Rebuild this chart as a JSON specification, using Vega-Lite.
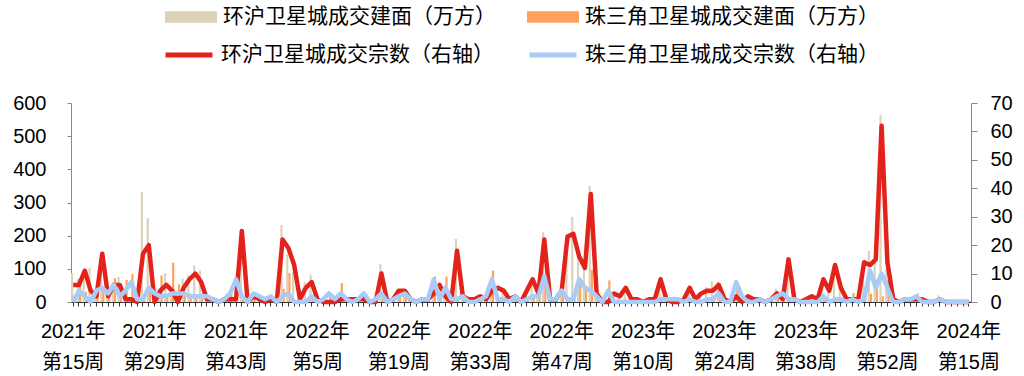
{
  "$schema": "https://vega.github.io/schema/vega-lite/v6.json",
  "width": 900,
  "height": 199,
  "autosize": {"type": "none"},
  "padding": {"left": 71, "top": 103, "right": 53, "bottom": 74},
  "background": "white",
  "config": {"view": {"stroke": null}, "font": "Liberation Sans, Noto Sans CJK SC"},
  "data": {"values": [
{"week":"2021-W15","hu_area":87,"prd_area":20,"hu_cnt":6,"prd_cnt":0},
{"week":"2021-W16","hu_area":70,"prd_area":65,"hu_cnt":6,"prd_cnt":4},
{"week":"2021-W17","hu_area":100,"prd_area":30,"hu_cnt":11,"prd_cnt":2},
{"week":"2021-W18","hu_area":102,"prd_area":10,"hu_cnt":4,"prd_cnt":0},
{"week":"2021-W19","hu_area":25,"prd_area":40,"hu_cnt":2,"prd_cnt":4},
{"week":"2021-W20","hu_area":140,"prd_area":45,"hu_cnt":17,"prd_cnt":5},
{"week":"2021-W21","hu_area":20,"prd_area":30,"hu_cnt":2,"prd_cnt":3},
{"week":"2021-W22","hu_area":60,"prd_area":72,"hu_cnt":6,"prd_cnt":6},
{"week":"2021-W23","hu_area":75,"prd_area":25,"hu_cnt":6,"prd_cnt":2},
{"week":"2021-W24","hu_area":10,"prd_area":67,"hu_cnt":1,"prd_cnt":4},
{"week":"2021-W25","hu_area":8,"prd_area":85,"hu_cnt":1,"prd_cnt":7},
{"week":"2021-W26","hu_area":5,"prd_area":15,"hu_cnt":0,"prd_cnt":1},
{"week":"2021-W27","hu_area":332,"prd_area":10,"hu_cnt":17,"prd_cnt":1},
{"week":"2021-W28","hu_area":253,"prd_area":45,"hu_cnt":20,"prd_cnt":5},
{"week":"2021-W29","hu_area":5,"prd_area":35,"hu_cnt":0,"prd_cnt":3},
{"week":"2021-W30","hu_area":40,"prd_area":80,"hu_cnt":4,"prd_cnt":2},
{"week":"2021-W31","hu_area":87,"prd_area":25,"hu_cnt":6,"prd_cnt":2},
{"week":"2021-W32","hu_area":45,"prd_area":118,"hu_cnt":4,"prd_cnt":3},
{"week":"2021-W33","hu_area":5,"prd_area":53,"hu_cnt":0,"prd_cnt":3},
{"week":"2021-W34","hu_area":70,"prd_area":30,"hu_cnt":5,"prd_cnt":3},
{"week":"2021-W35","hu_area":80,"prd_area":25,"hu_cnt":8,"prd_cnt":2},
{"week":"2021-W36","hu_area":110,"prd_area":20,"hu_cnt":10,"prd_cnt":2},
{"week":"2021-W37","hu_area":95,"prd_area":25,"hu_cnt":7,"prd_cnt":2},
{"week":"2021-W38","hu_area":10,"prd_area":20,"hu_cnt":1,"prd_cnt":2},
{"week":"2021-W39","hu_area":15,"prd_area":10,"hu_cnt":1,"prd_cnt":1},
{"week":"2021-W40","hu_area":3,"prd_area":2,"hu_cnt":0,"prd_cnt":0},
{"week":"2021-W41","hu_area":8,"prd_area":10,"hu_cnt":1,"prd_cnt":1},
{"week":"2021-W42","hu_area":10,"prd_area":30,"hu_cnt":1,"prd_cnt":3},
{"week":"2021-W43","hu_area":12,"prd_area":60,"hu_cnt":1,"prd_cnt":8},
{"week":"2021-W44","hu_area":200,"prd_area":20,"hu_cnt":25,"prd_cnt":2},
{"week":"2021-W45","hu_area":5,"prd_area":3,"hu_cnt":0,"prd_cnt":0},
{"week":"2021-W46","hu_area":20,"prd_area":30,"hu_cnt":2,"prd_cnt":3},
{"week":"2021-W47","hu_area":10,"prd_area":20,"hu_cnt":1,"prd_cnt":2},
{"week":"2021-W48","hu_area":3,"prd_area":10,"hu_cnt":0,"prd_cnt":1},
{"week":"2021-W49","hu_area":8,"prd_area":15,"hu_cnt":1,"prd_cnt":2},
{"week":"2021-W50","hu_area":2,"prd_area":2,"hu_cnt":0,"prd_cnt":0},
{"week":"2021-W51","hu_area":232,"prd_area":40,"hu_cnt":22,"prd_cnt":2},
{"week":"2021-W52","hu_area":145,"prd_area":87,"hu_cnt":19,"prd_cnt":3},
{"week":"2022-W01","hu_area":90,"prd_area":5,"hu_cnt":13,"prd_cnt":0},
{"week":"2022-W02","hu_area":8,"prd_area":2,"hu_cnt":1,"prd_cnt":0},
{"week":"2022-W03","hu_area":60,"prd_area":5,"hu_cnt":5,"prd_cnt":0},
{"week":"2022-W04","hu_area":83,"prd_area":20,"hu_cnt":7,"prd_cnt":2},
{"week":"2022-W05","hu_area":8,"prd_area":3,"hu_cnt":1,"prd_cnt":0},
{"week":"2022-W06","hu_area":3,"prd_area":10,"hu_cnt":0,"prd_cnt":1},
{"week":"2022-W07","hu_area":2,"prd_area":25,"hu_cnt":0,"prd_cnt":3},
{"week":"2022-W08","hu_area":2,"prd_area":8,"hu_cnt":0,"prd_cnt":1},
{"week":"2022-W09","hu_area":10,"prd_area":57,"hu_cnt":1,"prd_cnt":3},
{"week":"2022-W10","hu_area":10,"prd_area":10,"hu_cnt":1,"prd_cnt":1},
{"week":"2022-W11","hu_area":8,"prd_area":3,"hu_cnt":1,"prd_cnt":0},
{"week":"2022-W12","hu_area":10,"prd_area":10,"hu_cnt":1,"prd_cnt":1},
{"week":"2022-W13","hu_area":12,"prd_area":25,"hu_cnt":1,"prd_cnt":3},
{"week":"2022-W14","hu_area":2,"prd_area":2,"hu_cnt":0,"prd_cnt":0},
{"week":"2022-W15","hu_area":3,"prd_area":10,"hu_cnt":0,"prd_cnt":1},
{"week":"2022-W16","hu_area":114,"prd_area":25,"hu_cnt":10,"prd_cnt":3},
{"week":"2022-W17","hu_area":3,"prd_area":3,"hu_cnt":0,"prd_cnt":0},
{"week":"2022-W18","hu_area":10,"prd_area":10,"hu_cnt":1,"prd_cnt":1},
{"week":"2022-W19","hu_area":40,"prd_area":20,"hu_cnt":4,"prd_cnt":2},
{"week":"2022-W20","hu_area":35,"prd_area":25,"hu_cnt":4,"prd_cnt":3},
{"week":"2022-W21","hu_area":10,"prd_area":10,"hu_cnt":1,"prd_cnt":1},
{"week":"2022-W22","hu_area":3,"prd_area":3,"hu_cnt":0,"prd_cnt":0},
{"week":"2022-W23","hu_area":8,"prd_area":8,"hu_cnt":1,"prd_cnt":1},
{"week":"2022-W24","hu_area":10,"prd_area":10,"hu_cnt":1,"prd_cnt":1},
{"week":"2022-W25","hu_area":30,"prd_area":77,"hu_cnt":3,"prd_cnt":8},
{"week":"2022-W26","hu_area":50,"prd_area":10,"hu_cnt":6,"prd_cnt":1},
{"week":"2022-W27","hu_area":20,"prd_area":77,"hu_cnt":2,"prd_cnt":5},
{"week":"2022-W28","hu_area":3,"prd_area":8,"hu_cnt":0,"prd_cnt":1},
{"week":"2022-W29","hu_area":190,"prd_area":10,"hu_cnt":18,"prd_cnt":1},
{"week":"2022-W30","hu_area":20,"prd_area":20,"hu_cnt":2,"prd_cnt":2},
{"week":"2022-W31","hu_area":10,"prd_area":3,"hu_cnt":1,"prd_cnt":0},
{"week":"2022-W32","hu_area":8,"prd_area":3,"hu_cnt":1,"prd_cnt":0},
{"week":"2022-W33","hu_area":15,"prd_area":10,"hu_cnt":2,"prd_cnt":1},
{"week":"2022-W34","hu_area":10,"prd_area":20,"hu_cnt":1,"prd_cnt":2},
{"week":"2022-W35","hu_area":35,"prd_area":95,"hu_cnt":4,"prd_cnt":8},
{"week":"2022-W36","hu_area":45,"prd_area":10,"hu_cnt":5,"prd_cnt":1},
{"week":"2022-W37","hu_area":35,"prd_area":10,"hu_cnt":4,"prd_cnt":1},
{"week":"2022-W38","hu_area":10,"prd_area":3,"hu_cnt":1,"prd_cnt":0},
{"week":"2022-W39","hu_area":20,"prd_area":20,"hu_cnt":2,"prd_cnt":2},
{"week":"2022-W40","hu_area":3,"prd_area":3,"hu_cnt":0,"prd_cnt":0},
{"week":"2022-W41","hu_area":35,"prd_area":10,"hu_cnt":4,"prd_cnt":1},
{"week":"2022-W42","hu_area":70,"prd_area":20,"hu_cnt":8,"prd_cnt":2},
{"week":"2022-W43","hu_area":25,"prd_area":20,"hu_cnt":3,"prd_cnt":2},
{"week":"2022-W44","hu_area":210,"prd_area":70,"hu_cnt":22,"prd_cnt":9},
{"week":"2022-W45","hu_area":10,"prd_area":10,"hu_cnt":1,"prd_cnt":1},
{"week":"2022-W46","hu_area":10,"prd_area":10,"hu_cnt":1,"prd_cnt":1},
{"week":"2022-W47","hu_area":35,"prd_area":30,"hu_cnt":4,"prd_cnt":4},
{"week":"2022-W48","hu_area":180,"prd_area":10,"hu_cnt":23,"prd_cnt":1},
{"week":"2022-W49","hu_area":257,"prd_area":10,"hu_cnt":24,"prd_cnt":1},
{"week":"2022-W50","hu_area":150,"prd_area":60,"hu_cnt":16,"prd_cnt":8},
{"week":"2022-W51","hu_area":110,"prd_area":40,"hu_cnt":12,"prd_cnt":5},
{"week":"2022-W52","hu_area":350,"prd_area":97,"hu_cnt":38,"prd_cnt":4},
{"week":"2023-W02","hu_area":25,"prd_area":20,"hu_cnt":3,"prd_cnt":2},
{"week":"2023-W03","hu_area":3,"prd_area":3,"hu_cnt":0,"prd_cnt":0},
{"week":"2023-W04","hu_area":5,"prd_area":65,"hu_cnt":0,"prd_cnt":4},
{"week":"2023-W05","hu_area":25,"prd_area":3,"hu_cnt":3,"prd_cnt":0},
{"week":"2023-W06","hu_area":20,"prd_area":3,"hu_cnt":2,"prd_cnt":0},
{"week":"2023-W07","hu_area":40,"prd_area":3,"hu_cnt":5,"prd_cnt":0},
{"week":"2023-W08","hu_area":10,"prd_area":2,"hu_cnt":1,"prd_cnt":0},
{"week":"2023-W09","hu_area":10,"prd_area":2,"hu_cnt":1,"prd_cnt":0},
{"week":"2023-W10","hu_area":3,"prd_area":2,"hu_cnt":0,"prd_cnt":0},
{"week":"2023-W11","hu_area":8,"prd_area":2,"hu_cnt":1,"prd_cnt":0},
{"week":"2023-W12","hu_area":8,"prd_area":2,"hu_cnt":1,"prd_cnt":0},
{"week":"2023-W13","hu_area":70,"prd_area":10,"hu_cnt":8,"prd_cnt":1},
{"week":"2023-W14","hu_area":10,"prd_area":10,"hu_cnt":1,"prd_cnt":1},
{"week":"2023-W15","hu_area":5,"prd_area":10,"hu_cnt":0,"prd_cnt":1},
{"week":"2023-W16","hu_area":3,"prd_area":8,"hu_cnt":0,"prd_cnt":1},
{"week":"2023-W17","hu_area":8,"prd_area":3,"hu_cnt":1,"prd_cnt":0},
{"week":"2023-W18","hu_area":45,"prd_area":10,"hu_cnt":5,"prd_cnt":1},
{"week":"2023-W19","hu_area":8,"prd_area":3,"hu_cnt":1,"prd_cnt":0},
{"week":"2023-W20","hu_area":30,"prd_area":3,"hu_cnt":3,"prd_cnt":0},
{"week":"2023-W21","hu_area":45,"prd_area":10,"hu_cnt":4,"prd_cnt":1},
{"week":"2023-W22","hu_area":62,"prd_area":10,"hu_cnt":4,"prd_cnt":1},
{"week":"2023-W23","hu_area":62,"prd_area":25,"hu_cnt":6,"prd_cnt":3},
{"week":"2023-W24","hu_area":10,"prd_area":3,"hu_cnt":1,"prd_cnt":0},
{"week":"2023-W25","hu_area":3,"prd_area":2,"hu_cnt":0,"prd_cnt":0},
{"week":"2023-W26","hu_area":15,"prd_area":55,"hu_cnt":2,"prd_cnt":7},
{"week":"2023-W27","hu_area":3,"prd_area":20,"hu_cnt":0,"prd_cnt":2},
{"week":"2023-W28","hu_area":20,"prd_area":3,"hu_cnt":2,"prd_cnt":0},
{"week":"2023-W29","hu_area":10,"prd_area":3,"hu_cnt":1,"prd_cnt":0},
{"week":"2023-W30","hu_area":10,"prd_area":10,"hu_cnt":1,"prd_cnt":1},
{"week":"2023-W31","hu_area":3,"prd_area":2,"hu_cnt":0,"prd_cnt":0},
{"week":"2023-W32","hu_area":10,"prd_area":10,"hu_cnt":1,"prd_cnt":1},
{"week":"2023-W33","hu_area":40,"prd_area":20,"hu_cnt":3,"prd_cnt":2},
{"week":"2023-W34","hu_area":10,"prd_area":25,"hu_cnt":1,"prd_cnt":3},
{"week":"2023-W35","hu_area":135,"prd_area":10,"hu_cnt":15,"prd_cnt":1},
{"week":"2023-W36","hu_area":10,"prd_area":10,"hu_cnt":1,"prd_cnt":1},
{"week":"2023-W37","hu_area":3,"prd_area":2,"hu_cnt":0,"prd_cnt":0},
{"week":"2023-W38","hu_area":8,"prd_area":3,"hu_cnt":1,"prd_cnt":0},
{"week":"2023-W39","hu_area":20,"prd_area":3,"hu_cnt":2,"prd_cnt":0},
{"week":"2023-W40","hu_area":8,"prd_area":3,"hu_cnt":1,"prd_cnt":0},
{"week":"2023-W41","hu_area":70,"prd_area":15,"hu_cnt":8,"prd_cnt":2},
{"week":"2023-W42","hu_area":30,"prd_area":3,"hu_cnt":4,"prd_cnt":0},
{"week":"2023-W43","hu_area":100,"prd_area":10,"hu_cnt":13,"prd_cnt":1},
{"week":"2023-W44","hu_area":40,"prd_area":10,"hu_cnt":5,"prd_cnt":1},
{"week":"2023-W45","hu_area":10,"prd_area":3,"hu_cnt":1,"prd_cnt":0},
{"week":"2023-W46","hu_area":10,"prd_area":27,"hu_cnt":1,"prd_cnt":1},
{"week":"2023-W47","hu_area":8,"prd_area":3,"hu_cnt":1,"prd_cnt":0},
{"week":"2023-W48","hu_area":110,"prd_area":10,"hu_cnt":14,"prd_cnt":1},
{"week":"2023-W49","hu_area":154,"prd_area":25,"hu_cnt":13,"prd_cnt":11},
{"week":"2023-W50","hu_area":130,"prd_area":67,"hu_cnt":15,"prd_cnt":5},
{"week":"2023-W51","hu_area":563,"prd_area":17,"hu_cnt":62,"prd_cnt":10},
{"week":"2023-W52","hu_area":100,"prd_area":67,"hu_cnt":14,"prd_cnt":5},
{"week":"2024-W02","hu_area":10,"prd_area":3,"hu_cnt":1,"prd_cnt":0},
{"week":"2024-W03","hu_area":3,"prd_area":2,"hu_cnt":0,"prd_cnt":0},
{"week":"2024-W04","hu_area":10,"prd_area":10,"hu_cnt":1,"prd_cnt":1},
{"week":"2024-W05","hu_area":10,"prd_area":15,"hu_cnt":1,"prd_cnt":1},
{"week":"2024-W06","hu_area":12,"prd_area":25,"hu_cnt":1,"prd_cnt":2},
{"week":"2024-W07","hu_area":8,"prd_area":3,"hu_cnt":1,"prd_cnt":0},
{"week":"2024-W08","hu_area":3,"prd_area":2,"hu_cnt":0,"prd_cnt":0},
{"week":"2024-W09","hu_area":3,"prd_area":2,"hu_cnt":0,"prd_cnt":0},
{"week":"2024-W10","hu_area":20,"prd_area":8,"hu_cnt":1,"prd_cnt":1},
{"week":"2024-W11","hu_area":2,"prd_area":2,"hu_cnt":0,"prd_cnt":0},
{"week":"2024-W12","hu_area":2,"prd_area":2,"hu_cnt":0,"prd_cnt":0},
{"week":"2024-W13","hu_area":2,"prd_area":2,"hu_cnt":0,"prd_cnt":0},
{"week":"2024-W14","hu_area":2,"prd_area":2,"hu_cnt":0,"prd_cnt":0},
{"week":"2024-W15","hu_area":2,"prd_area":2,"hu_cnt":0,"prd_cnt":0}
  ]},
  "encoding": {
    "x": {
      "field": "week", "type": "nominal", "sort": "ascending",
      "scale": {"paddingInner": 0.25, "paddingOuter": 0},
      "axis": {
        "title": null, "labelAngle": 0, "labelOverlap": false,
        "tickSize": 4, "tickColor": "#333333", "domainColor": "#333333",
        "labelFontSize": 20, "labelLineHeight": 31, "labelPadding": 15, "labelColor": "#000000",
        "labelExpr": "indexof(['2021-W15','2021-W29','2021-W43','2022-W05','2022-W19','2022-W33','2022-W47','2023-W10','2023-W24','2023-W38','2023-W52','2024-W15'], datum.value) >= 0 ? [slice(datum.value,0,4) + '年', '第' + toNumber(slice(datum.value,6)) + '周'] : ''"
      }
    }
  },
  "layer": [
    {
      "transform": [{"fold": ["hu_area", "prd_area"], "as": ["series", "value"]}],
      "mark": {"type": "bar"},
      "encoding": {
        "xOffset": {"field": "series", "type": "nominal", "sort": ["hu_area", "prd_area"], "scale": {"paddingInner": 0, "paddingOuter": 0}},
        "y": {
          "field": "value", "type": "quantitative",
          "scale": {"domain": [0, 600], "nice": false},
          "axis": {"title": null, "grid": false, "values": [0,100,200,300,400,500,600], "tickSize": 4, "tickColor": "#888888", "domainColor": "#888888", "labelFontSize": 20, "labelPadding": 21, "labelColor": "#000000"}
        },
        "color": {
          "field": "series", "type": "nominal",
          "scale": {"domain": ["hu_area", "prd_area"], "range": ["#DCD2B9", "#FFA25E"]},
          "legend": {
            "title": null, "orient": "none", "legendX": 94, "legendY": -112, "direction": "horizontal",
            "symbolType": "M-1,-0.22H1V0.22H-1Z", "symbolSize": 2704, "symbolStrokeWidth": 0,
            "labelFont": "Noto Sans CJK SC", "labelFontSize": 21, "labelLimit": 500, "labelColor": "#000000",
            "labelOffset": 6, "columnPadding": 31, "padding": 0,
            "labelExpr": "datum.label == 'hu_area' ? '环沪卫星城成交建面（万方）' : '珠三角卫星城成交建面（万方）'"
          }
        }
      }
    },
    {
      "transform": [{"fold": ["hu_cnt", "prd_cnt"], "as": ["series", "value"]}],
      "mark": {"type": "line", "strokeWidth": 4.5, "strokeJoin": "round"},
      "encoding": {
        "y": {
          "field": "value", "type": "quantitative",
          "scale": {"domain": [0, 70], "nice": false},
          "axis": {"orient": "right", "title": null, "grid": false, "values": [0,10,20,30,40,50,60,70], "tickSize": 6, "tickColor": "#888888", "domainColor": "#888888", "labelFontSize": 20, "labelPadding": 13, "labelColor": "#000000"}
        },
        "color": {
          "field": "series", "type": "nominal",
          "scale": {"domain": ["hu_cnt", "prd_cnt"], "range": ["#E3231B", "#A8CCF7"]},
          "legend": {
            "title": null, "orient": "none", "legendX": 92, "legendY": -74, "direction": "horizontal",
            "symbolType": "stroke", "symbolSize": 2209, "symbolStrokeWidth": 5,
            "labelFont": "Noto Sans CJK SC", "labelFontSize": 21, "labelLimit": 500, "labelColor": "#000000",
            "labelOffset": 6, "columnPadding": 25, "padding": 0,
            "labelExpr": "datum.label == 'hu_cnt' ? '环沪卫星城成交宗数（右轴）' : '珠三角卫星城成交宗数（右轴）'"
          }
        }
      }
    }
  ],
  "resolve": {"scale": {"y": "independent", "color": "independent"}}
}
